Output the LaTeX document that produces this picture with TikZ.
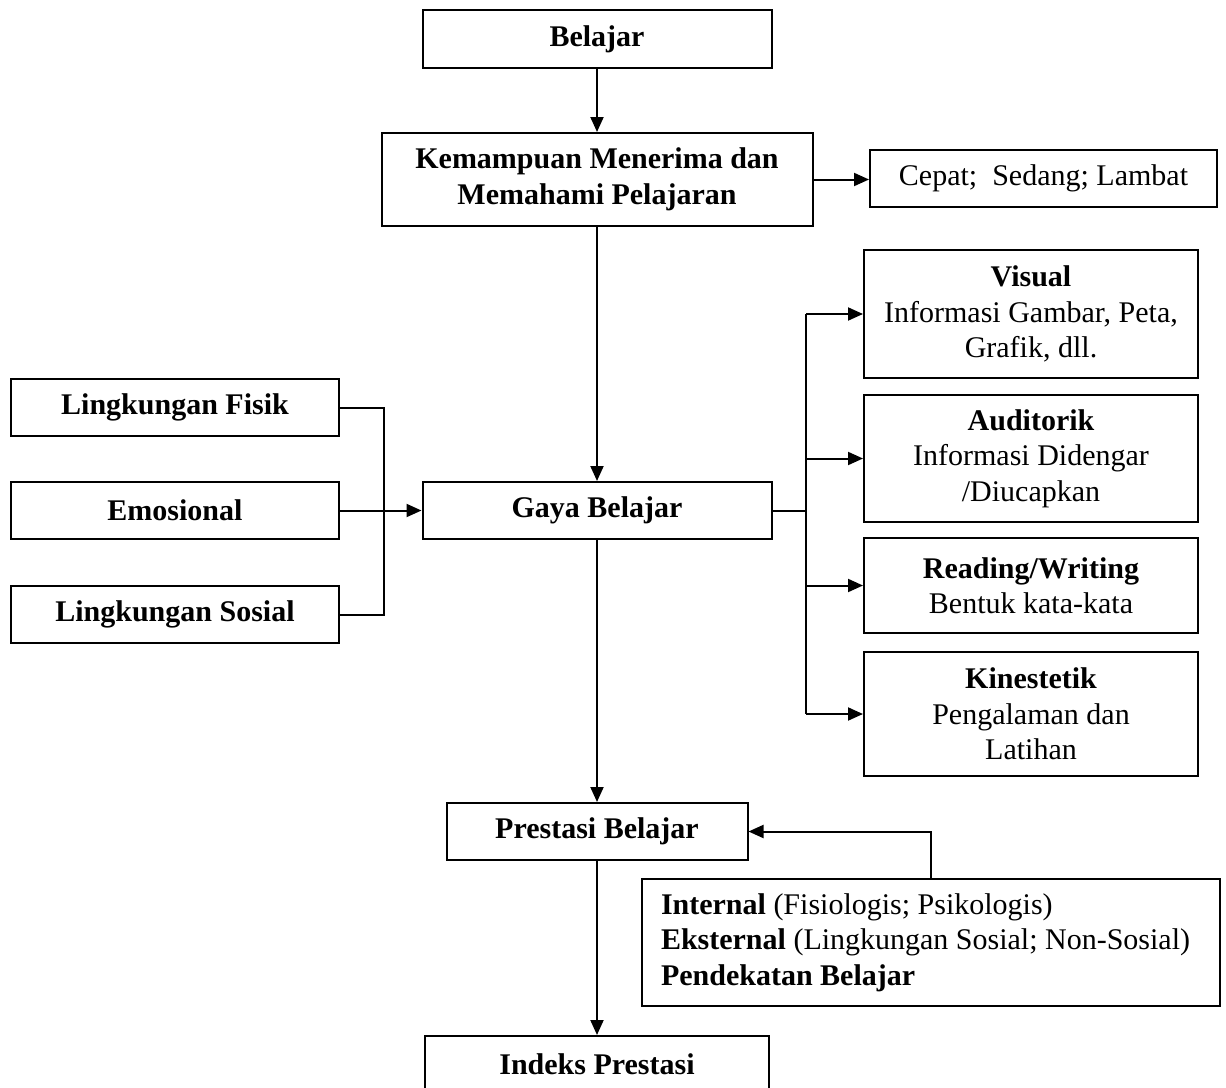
\documentclass[tikz,border=0pt]{standalone}
\usepackage{fontspec}
\setmainfont{Liberation Serif}
\usetikzlibrary{arrows.meta}

\tikzset{
    kotak/.style={draw=black, line width=2pt, align=center, inner sep=0pt,
        font=\fontsize{30}{35.5}\selectfont},
    panah/.style={line width=2pt, -{Triangle[length=15pt,width=13pt]}},
    garis/.style={line width=2pt},
}

\begin{document}
\begin{tikzpicture}[x=1pt, y=-1pt]
        \useasboundingbox (0,0) rectangle (1226,1087);

        % kolom tengah
        \node[kotak, minimum width=349pt, minimum height=58pt] (belajar) at (597,39) {\textbf{Belajar}};
        \node[kotak, minimum width=431pt, minimum height=93pt] (kemampuan) at (597,179.5) {\textbf{Kemampuan Menerima dan}\\\textbf{Memahami Pelajaran}};
        \node[kotak, minimum width=349pt, minimum height=57pt] (gaya) at (597,510.5) {\textbf{Gaya Belajar}};
        \node[kotak, minimum width=301pt, minimum height=57pt] (prestasi) at (597,831.5) {\textbf{Prestasi Belajar}};
        \node[kotak, minimum width=344pt, minimum height=57pt] (indeks) at (597,1064.5) {\textbf{Indeks Prestasi}};

        \node[kotak, minimum width=347pt, minimum height=57pt] (kecepatan) at (1043.5,178.5) {Cepat;~ Sedang; Lambat};

        % kiri
        \node[kotak, minimum width=328pt, minimum height=57pt] (fisik) at (175,407.5) {\textbf{Lingkungan Fisik}};
        \node[kotak, minimum width=328pt, minimum height=57pt] (emosional) at (175,510.5) {\textbf{Emosional}};
        \node[kotak, minimum width=328pt, minimum height=57pt] (sosial) at (175,614.5) {\textbf{Lingkungan Sosial}};

        % kanan
        \node[kotak, minimum width=334pt, minimum height=128pt] (visual) at (1031,314) {\textbf{Visual}\\Informasi Gambar, Peta,\\Grafik, dll.};
        \node[kotak, minimum width=334pt, minimum height=127pt] (auditorik) at (1031,458.5) {\textbf{Auditorik}\\Informasi Didengar\\/Diucapkan};
        \node[kotak, minimum width=334pt, minimum height=95pt] (reading) at (1031,585.5) {\textbf{Reading/Writing}\\Bentuk kata-kata};
        \node[kotak, minimum width=334pt, minimum height=124pt] (kinestetik) at (1031,714) {\textbf{Kinestetik}\\Pengalaman dan\\Latihan};

        \node[kotak, align=flush left, text width=540pt, inner xsep=19pt, minimum height=127pt] (faktor) at (931,942.5) {\textbf{Internal} (Fisiologis; Psikologis)\\\textbf{Eksternal} (Lingkungan Sosial; Non-Sosial)\\\textbf{Pendekatan Belajar}};

        \coordinate (busl) at (384,510.5);
        \coordinate (busr) at (806,510.5);

        \draw[panah] (belajar) -- (kemampuan);
        \draw[panah] (kemampuan.east) -- (kemampuan.east -| kecepatan.west);
        \draw[panah] (kemampuan) -- (gaya);

        \draw[garis] (fisik.east) -- (fisik.east -| busl) -- (sosial.east -| busl) -- (sosial.east);
        \draw[panah] (emosional) -- (gaya);

        \draw[garis] (gaya.east) -- (busr);
        \draw[garis] (visual.west -| busr) -- (kinestetik.west -| busr);
        \foreach \b in {visual, auditorik, reading, kinestetik}
            \draw[panah] (\b.west -| busr) -- (\b.west);

        \draw[panah] (gaya) -- (prestasi);
        \draw[panah] (faktor.north) |- (prestasi.east);
        \draw[panah] (prestasi) -- (indeks);

    \end{tikzpicture}
\end{document}
